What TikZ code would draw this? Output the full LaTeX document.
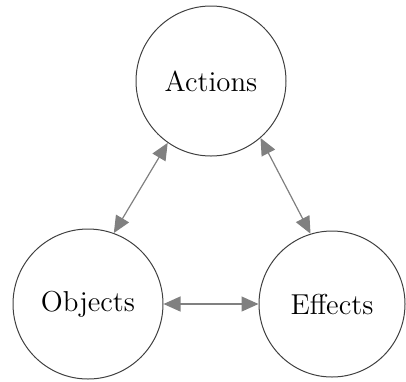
\documentclass[tikz,border=0pt]{standalone}
\usepackage{tikz}
\usetikzlibrary{arrows.meta}

\begin{document}
\begin{tikzpicture}[x=0.5pt,y=-0.5pt,
        topic/.style={circle,draw=black!75,line width=0.5pt,minimum size=75pt,inner sep=0pt,font=\Large},
        link/.style={{Triangle[length=8.5pt,width=7.5pt]}-{Triangle[length=8.5pt,width=7.5pt]},draw=black!50,line width=0.6pt}]
    \useasboundingbox (0,0) rectangle (406,381);
        \node[topic] (actions) at (211,81) {Actions};
        \node[topic] (objects) at (88,304) {Objects};
        \node[topic,minimum size=73pt] (effects) at (332,304) {Effects};
        \draw[link] (actions.235) -- (objects.70);
        \draw[link] (actions.-49) -- (effects.107);
        \draw[link] (objects) -- (effects);
    \end{tikzpicture}
\end{document}
